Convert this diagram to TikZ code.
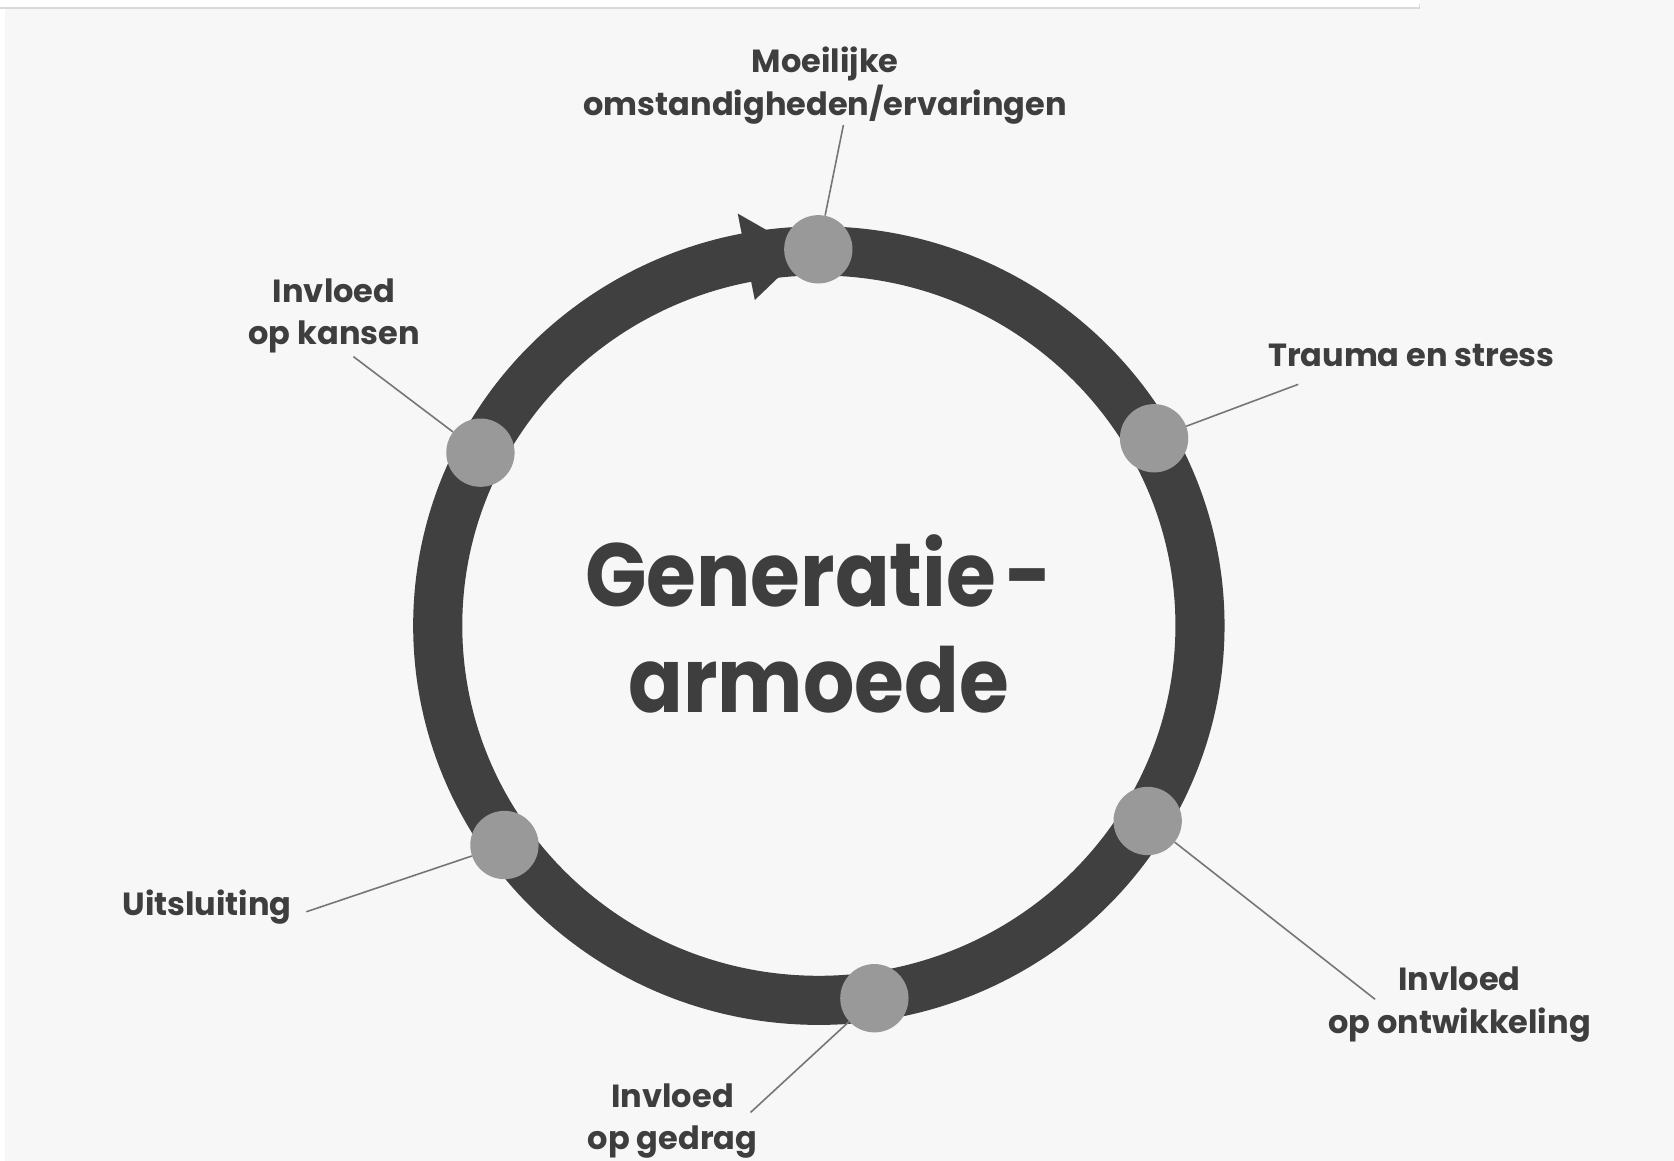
\documentclass[tikz,border=0pt]{standalone}
\usepackage{fontspec}
\usepackage{graphicx}
\setmainfont{Poppins}
\definecolor{bg}{HTML}{F7F7F7}
\definecolor{ringc}{HTML}{404040}
\definecolor{dotc}{HTML}{999999}
\definecolor{txt}{HTML}{3E3E3E}
\definecolor{linec}{HTML}{767676}
\begin{document}
\begin{tikzpicture}[x=1pt,y=-1pt,
  lbl/.style={font=\fontsize{30}{40}\selectfont\bfseries, text=txt, align=center, inner sep=0pt},
  title/.style={font=\fontsize{84}{99}\selectfont\bfseries, text=txt, inner sep=0pt},
  dot/.style={circle, fill=dotc, minimum size=64pt, inner sep=0pt},
  link/.style={draw=linec, line width=1.5pt}]
\useasboundingbox (0,0) rectangle (1568,1087);
\fill[bg] (0,0) rectangle (1568,1087);
\fill[white] (0,0) rectangle (1330,7.5);
\fill[white] (0,0) rectangle (5,1087);
\draw[black!15, line width=1pt] (0,7.5) -- (1330,7.5) -- (1330,4);
% ring
\draw[ringc, line width=46pt] (767,586) ellipse [x radius=357pt, y radius=351pt];
\coordinate (hb1) at (691,200);
\coordinate (hb2) at (707,281);
\coordinate (htip) at (754,236);
\fill[ringc] (hb1) -- (htip) -- (hb2) -- cycle;
% labels
\node[lbl] (l1) at (773,80) {Moeilijke\\omstandigheden/ervaringen};
\node[lbl] (l2) at (1322,333) {Trauma en stress};
\node[lbl] (l3) at (1367,941) {Invloed\\op ontwikkeling};
\node[lbl] (l4) at (630,1050) {Invloed\\op gedrag};
\node[lbl] (l5) at (194,850) {Uitsluiting};
\node[lbl] (l6) at (313,296) {Invloed\\op kansen};
\node[title] (t) at (767,598) {\scalebox{0.9}[1]{\begin{tabular}{@{}c@{}}Generatie\kern0.12em-\\armoede\end{tabular}}};
% connector start points
\coordinate (p1) at (790,117);
\coordinate (p2) at (1216,360);
\coordinate (p3) at (1288,936);
\coordinate (p4) at (703,1042);
\coordinate (p5) at (287,854);
\coordinate (p6) at (331,334);
% dots
\node[dot] (c1) at (766.5,233.5) {};
\node[dot] (c2) at (1081,410.5) {};
\node[dot] (c3) at (1075,769) {};
\node[dot] (c4) at (819,935) {};
\node[dot] (c5) at (472.5,791.5) {};
\node[dot] (c6) at (450,424) {};
% connectors
\draw[link] (p1) -- (c1);
\draw[link] (p2) -- (c2);
\draw[link] (p3) -- (c3);
\draw[link] (p4) -- (c4);
\draw[link] (p5) -- (c5);
\draw[link] (p6) -- (c6);
\end{tikzpicture}
\end{document}
